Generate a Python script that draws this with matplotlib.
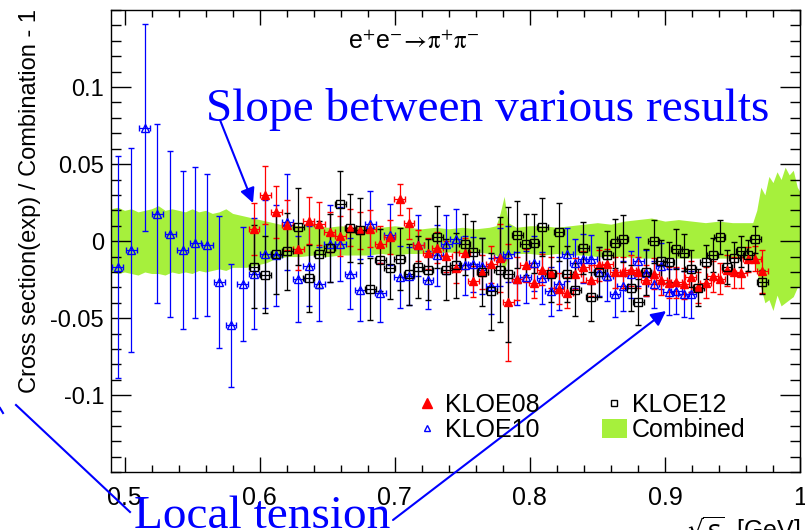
import numpy as np
import matplotlib.pyplot as plt
from matplotlib.lines import Line2D
from matplotlib.patches import Patch
from matplotlib.ticker import MultipleLocator

plt.rcParams['font.family'] = ['Liberation Sans', 'DejaVu Sans']

# sqrt(s) bin centres [GeV]
sqrt_s = [0.4950, 0.5050, 0.5148, 0.5244, 0.5339, 0.5431, 0.5523, 0.5613, 0.5701, 0.5788,
          0.5874, 0.5958, 0.6042, 0.6124, 0.6205, 0.6285, 0.6364, 0.6442, 0.6519, 0.6596,
          0.6671, 0.6745, 0.6819, 0.6892, 0.6964, 0.7036, 0.7106, 0.7176, 0.7246, 0.7314,
          0.7382, 0.7450, 0.7517, 0.7583, 0.7649, 0.7714, 0.7778, 0.7842, 0.7906, 0.7969,
          0.8031, 0.8093, 0.8155, 0.8216, 0.8277, 0.8337, 0.8396, 0.8456, 0.8515, 0.8573,
          0.8631, 0.8689, 0.8746, 0.8803, 0.8860, 0.8916, 0.8972, 0.9028, 0.9083, 0.9138,
          0.9192, 0.9247, 0.9301, 0.9354, 0.9407, 0.9460, 0.9513, 0.9566, 0.9618, 0.9670,
          0.9721]

# KLOE10 (bins 0..60)
k10_x = sqrt_s[0:61]
k10_y = [-0.0166, -0.0058, 0.0736, 0.0178, 0.0048, -0.0058, -0.0010, -0.0026, -0.0266, -0.0547,
         -0.0275, -0.0210, -0.0082, -0.0093, 0.0123, -0.0244, -0.0162, -0.0275, -0.0017, -0.0021,
         -0.0212, -0.0318, 0.0113, -0.0335, 0.0043, -0.0232, -0.0227, -0.0028, -0.0253, -0.0093,
         -0.0021, 0.0011, -0.0158, -0.0151, -0.0162, -0.0292, -0.0102, -0.0082, -0.0243, -0.0231,
         -0.0145, -0.0238, -0.0325, -0.0275, -0.0086, -0.0145, -0.0114, -0.0119, -0.0199, -0.0227,
         -0.0340, -0.0292, -0.0216, -0.0130, -0.0205, -0.0281, -0.0162, -0.0331, -0.0325, -0.0342,
         -0.0346]
k10_err = [0.072, 0.066, 0.067, 0.058, 0.054, 0.051, 0.049, 0.046, 0.043, 0.040,
           0.037, 0.036, 0.035, 0.033, 0.031, 0.028, 0.026, 0.024, 0.025, 0.024,
           0.023, 0.020, 0.021, 0.019, 0.020, 0.020, 0.019, 0.020, 0.019, 0.020,
           0.019, 0.020, 0.019, 0.018, 0.018, 0.018, 0.019, 0.018, 0.017, 0.017,
           0.018, 0.017, 0.016, 0.017, 0.017, 0.016, 0.016, 0.016, 0.016, 0.016,
           0.015, 0.016, 0.015, 0.016, 0.015, 0.015, 0.015, 0.015, 0.015, 0.015,
           0.015]

# KLOE08 (bins 11..70)
k08_x = sqrt_s[11:71]
k08_y = [0.0080, 0.0299, 0.0188, 0.0105, -0.0049, 0.0134, 0.0113, 0.0061, 0.0032, 0.0087,
         0.0071, 0.0080, -0.0021, 0.0029, 0.0271, 0.0115, -0.0028, -0.0080, -0.0043, -0.0097,
         -0.0173, -0.0080, -0.0260, -0.0201, -0.0151, -0.0108, -0.0396, -0.0243, -0.0158, -0.0270,
         -0.0184, -0.0205, -0.0309, -0.0335, -0.0212, -0.0166, -0.0255, -0.0158, -0.0151, -0.0201,
         -0.0201, -0.0190, -0.0201, -0.0253, -0.0212, -0.0249, -0.0270, -0.0266, -0.0275, -0.0231,
         -0.0299, -0.0270, -0.0227, -0.0244, -0.0190, -0.0201, -0.0205, -0.0119, -0.0114, -0.0195]
k08_err = [0.017, 0.019, 0.017, 0.016, 0.014, 0.015, 0.014, 0.013, 0.013, 0.012,
           0.012, 0.012, 0.012, 0.011, 0.010, 0.010, 0.010, 0.010, 0.010, 0.010,
           0.010, 0.010, 0.010, 0.011, 0.012, 0.022, 0.038, 0.014, 0.011, 0.010,
           0.010, 0.010, 0.010, 0.010, 0.010, 0.010, 0.010, 0.010, 0.010, 0.010,
           0.010, 0.010, 0.010, 0.010, 0.010, 0.010, 0.010, 0.010, 0.010, 0.010,
           0.010, 0.010, 0.010, 0.010, 0.010, 0.010, 0.010, 0.008, 0.008, 0.014]

# KLOE12 (bins 11..70)
k12_x = sqrt_s[11:71]
k12_y = [-0.0166, -0.0218, -0.0082, -0.0065, 0.0093, -0.0242, -0.0086, -0.0043, 0.0238, 0.0087,
         0.0071, -0.0310, -0.0123, -0.0173, -0.0114, -0.0216, -0.0166, -0.0184, 0.0029, -0.0184,
         -0.0158, -0.0021, -0.0071, -0.0201, -0.0325, -0.0184, -0.0216, 0.0043, -0.0021, -0.0015,
         0.0093, -0.0212, 0.0058, -0.0212, -0.0314, -0.0043, -0.0361, -0.0201, -0.0093, -0.0015,
         0.0017, -0.0303, -0.0396, -0.0201, 0.0000, -0.0130, -0.0136, -0.0049, -0.0075, -0.0179,
         -0.0303, -0.0136, -0.0091, 0.0028, -0.0169, -0.0108, -0.0065, -0.0093, 0.0011, -0.0264]
k12_err = [0.027, 0.025, 0.026, 0.025, 0.025, 0.022, 0.022, 0.022, 0.022, 0.022,
           0.021, 0.020, 0.020, 0.020, 0.020, 0.020, 0.020, 0.020, 0.020, 0.020,
           0.021, 0.020, 0.020, 0.022, 0.025, 0.034, 0.044, 0.022, 0.020, 0.019,
           0.019, 0.018, 0.019, 0.018, 0.017, 0.017, 0.016, 0.016, 0.016, 0.016,
           0.015, 0.015, 0.015, 0.015, 0.014, 0.014, 0.013, 0.013, 0.012, 0.012,
           0.012, 0.011, 0.011, 0.011, 0.011, 0.010, 0.010, 0.010, 0.009, 0.008]

# Combined uncertainty band
band_x = [0.490, 0.495, 0.500, 0.505, 0.510, 0.515, 0.520, 0.525, 0.530, 0.535,
          0.540, 0.545, 0.550, 0.555, 0.560, 0.565, 0.570, 0.575, 0.580, 0.585,
          0.590, 0.595, 0.600, 0.605, 0.610, 0.615, 0.620, 0.630, 0.640, 0.650,
          0.660, 0.670, 0.680, 0.690, 0.700, 0.710, 0.720, 0.730, 0.740, 0.750,
          0.760, 0.770, 0.775, 0.778, 0.781, 0.784, 0.790, 0.800, 0.810, 0.820,
          0.830, 0.840, 0.850, 0.860, 0.870, 0.880, 0.890, 0.900, 0.910, 0.920,
          0.930, 0.940, 0.950, 0.960, 0.965, 0.968, 0.971, 0.974, 0.977, 0.980,
          0.983, 0.986, 0.989, 0.992, 0.995, 0.998, 1.000]
band_hi = [0.021, 0.022, 0.020, 0.021, 0.019, 0.020, 0.021, 0.023, 0.020, 0.021,
           0.020, 0.019, 0.021, 0.019, 0.020, 0.018, 0.019, 0.021, 0.018, 0.017,
           0.016, 0.015, 0.014, 0.013, 0.012, 0.011, 0.011, 0.010, 0.011, 0.009,
           0.010, 0.009, 0.010, 0.009, 0.010, 0.009, 0.008, 0.009, 0.008, 0.009,
           0.008, 0.009, 0.010, 0.018, 0.029, 0.012, 0.009, 0.010, 0.010, 0.009,
           0.010, 0.011, 0.012, 0.011, 0.013, 0.014, 0.015, 0.013, 0.014, 0.013,
           0.012, 0.013, 0.012, 0.012, 0.012, 0.020, 0.035, 0.030, 0.042, 0.038,
           0.045, 0.040, 0.048, 0.043, 0.046, 0.035, 0.032]
band_lo = [-0.020, -0.021, -0.020, -0.021, -0.022, -0.020, -0.021, -0.021, -0.022, -0.020,
           -0.021, -0.020, -0.021, -0.019, -0.020, -0.019, -0.018, -0.019, -0.017, -0.017,
           -0.017, -0.016, -0.015, -0.014, -0.012, -0.011, -0.010, -0.010, -0.009, -0.010,
           -0.009, -0.009, -0.009, -0.008, -0.009, -0.008, -0.008, -0.008, -0.007, -0.008,
           -0.007, -0.008, -0.009, -0.012, -0.020, -0.010, -0.008, -0.008, -0.009, -0.008,
           -0.009, -0.009, -0.010, -0.010, -0.010, -0.011, -0.011, -0.011, -0.011, -0.011,
           -0.011, -0.011, -0.011, -0.011, -0.011, -0.020, -0.030, -0.040, -0.038, -0.045,
           -0.035, -0.042, -0.040, -0.038, -0.036, -0.030, -0.030]

band_color = '#a6f03c'
W, H = 805, 530


def fx(px):
    return px / W


def fy(py):
    return 1.0 - py / H


fig = plt.figure(figsize=(8.05, 5.30), dpi=100)
ax = fig.add_axes([fx(111), fy(472.3), (800 - 111) / W, (472.3 - 10) / H])

ax.fill_between(band_x, band_lo, band_hi, color=band_color, lw=0, zorder=1)

ekw = dict(linestyle='none', elinewidth=0.9, capsize=2.0, capthick=0.9,
           markersize=5.5, markeredgewidth=1.0, zorder=3)
ax.errorbar(k10_x, k10_y, yerr=k10_err, xerr=0.004, marker='^', color='blue',
            markerfacecolor='none', ecolor='blue', **ekw)
ax.errorbar(k08_x, k08_y, yerr=k08_err, xerr=0.004, marker='^', color='red',
            markerfacecolor='red', ecolor='red', **ekw)
ax.errorbar(k12_x, k12_y, yerr=k12_err, xerr=0.004, marker='s', color='black',
            markerfacecolor='none', ecolor='black', **ekw)

ax.set_xlim(0.49, 1.0)
ax.set_ylim(-0.15, 0.15)
ax.set_xticks([0.5, 0.6, 0.7, 0.8, 0.9, 1.0])
ax.set_xticklabels(['0.5', '0.6', '0.7', '0.8', '0.9', '1'])
ax.set_yticks([-0.1, -0.05, 0.0, 0.05, 0.1])
ax.set_yticklabels(['-0.1', '-0.05', '0', '0.05', '0.1'])
ax.xaxis.set_minor_locator(MultipleLocator(0.02))
ax.yaxis.set_minor_locator(MultipleLocator(0.01))
ax.tick_params(which='both', direction='in', top=True, right=True, width=1.0)
ax.tick_params(axis='x', which='major', length=11, pad=10, labelsize=18)
ax.tick_params(axis='x', which='minor', length=5)
ax.tick_params(axis='y', which='major', length=14.5, pad=5, labelsize=17)
ax.tick_params(axis='y', which='minor', length=7)
for s in ax.spines.values():
    s.set_linewidth(1.0)

handles = [Line2D([], [], marker='^', color='red', markerfacecolor='red', ls='none', markersize=7),
           Line2D([], [], marker='^', color='blue', markerfacecolor='none', ls='none', markersize=5),
           Line2D([], [], marker='s', color='black', markerfacecolor='none', ls='none', markersize=5),
           Patch(facecolor=band_color, edgecolor='none')]
labels = ['KLOE08', 'KLOE10', 'KLOE12', 'Combined']
ax.legend(handles, labels, ncol=2, frameon=False, fontsize=18, loc='upper left',
          bbox_to_anchor=(0.441, 0.172), borderpad=0, borderaxespad=0,
          handlelength=1.0, handleheight=0.8, handletextpad=0.2,
          labelspacing=0.05, columnspacing=2.5)

# texts
fig.text(fx(30), fy(201), 'Cross section(exp) / Combination - 1', rotation=90,
         ha='center', va='center', fontsize=17)
fig.text(fx(800), fy(515), r'$\sqrt{s}$  [GeV]', ha='right', va='top', fontsize=18)
fig.text(fx(413), fy(42), r'e$^{+}$e$^{-}\!\rightarrow\!\mathrm{\pi}^{+}\mathrm{\pi}^{-}$',
         ha='center', va='center', fontsize=18, math_fontfamily='stix')

fig.text(fx(488), fy(121), 'Slope between various results', color='blue',
         family='Liberation Serif', fontsize=34, ha='center', va='baseline')
fig.text(fx(134), fy(528), 'Local tension', color='blue',
         family='Liberation Serif', fontsize=34, ha='left', va='baseline')

arw = dict(arrowstyle='-|>', color='blue', lw=1.5, mutation_scale=22, shrinkA=0, shrinkB=0)
ax.annotate('', xy=(fx(253), fy(203)), xytext=(fx(220), fy(120)),
            xycoords='figure fraction', textcoords='figure fraction', arrowprops=arw)
ax.annotate('', xy=(fx(666), fy(311)), xytext=(fx(393), fy(520)),
            xycoords='figure fraction', textcoords='figure fraction', arrowprops=arw)
fig.add_artist(Line2D([fx(16), fx(130)], [fy(405), fy(512)], color='blue', lw=1.5))
fig.add_artist(Line2D([fx(0), fx(3)], [fy(408), fy(413)], color='blue', lw=1.5))

fig.savefig('out.png', dpi=100)
